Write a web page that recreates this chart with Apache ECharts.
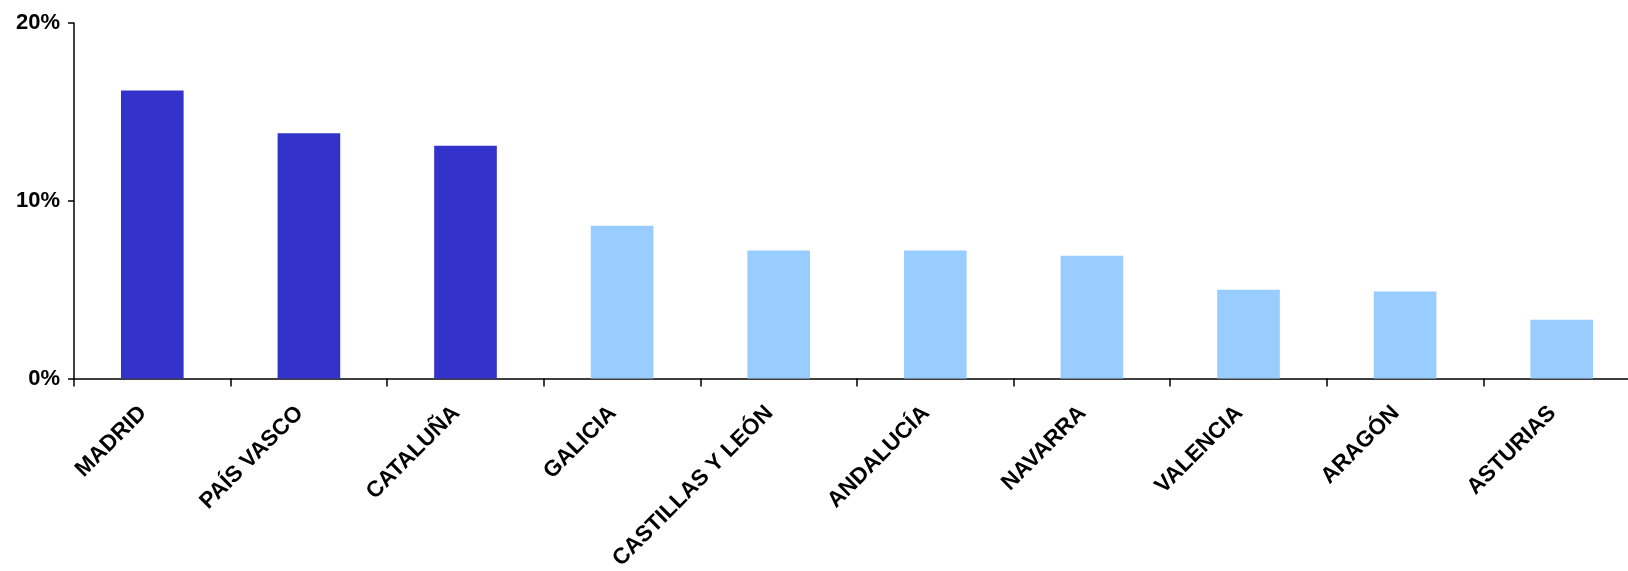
<!DOCTYPE html>
<html>
<head>
<meta charset="utf-8">
<script src="https://cdn.jsdelivr.net/npm/echarts@6/dist/echarts.min.js"></script>
<style>
html,body{margin:0;padding:0;background:#fff;}
#chart{width:1628px;height:571px;}
</style>
</head>
<body>
<div id="chart"></div>
<script>
const categories = ['MADRID','PAÍS VASCO','CATALUÑA','GALICIA','CASTILLAS Y LEÓN','ANDALUCÍA','NAVARRA','VALENCIA','ARAGÓN','ASTURIAS'];
const values = [16.2, 13.8, 13.1, 8.6, 7.2, 7.2, 6.9, 5.0, 4.9, 3.3];
const yTicks = [0, 10, 20];

const DARK = '#3333CC';
const LIGHT = '#99CCFF';
const FONT = '"Liberation Sans", Arial, sans-serif';

const chart = echarts.init(document.getElementById('chart'));
chart.setOption({
  animation: false,
  backgroundColor: '#ffffff',
  grid: { left: 74, width: 1566, top: 23, bottom: 192.5, containLabel: false, outerBoundsMode: 'none' },
  xAxis: {
    type: 'category',
    data: categories,
    axisLine: { lineStyle: { color: '#000', width: 1.5 } },
    axisTick: { show: true, length: 8, lineStyle: { color: '#000', width: 1.5 } },
    axisLabel: {
      rotate: 45, interval: 0, margin: 22, padding: [0, 13, 0, 0],
      color: '#000', fontFamily: FONT, fontWeight: 'bold', fontSize: 22.5
    }
  },
  yAxis: {
    type: 'value',
    min: yTicks[0], max: yTicks[yTicks.length - 1], interval: yTicks[1] - yTicks[0],
    splitLine: { show: false },
    axisLine: { show: true, lineStyle: { color: '#000', width: 1.5 } },
    axisTick: { show: true, length: 6, lineStyle: { color: '#000', width: 1.5 } },
    axisLabel: {
      formatter: '{value}%', margin: 14,
      color: '#000', fontFamily: FONT, fontWeight: 'bold', fontSize: 22
    }
  },
  series: [{
    type: 'bar',
    data: values,
    barWidth: '40%',
    itemStyle: {
      color: function (p) { return p.dataIndex < 3 ? DARK : LIGHT; }
    }
  }]
});
</script>
</body>
</html>
